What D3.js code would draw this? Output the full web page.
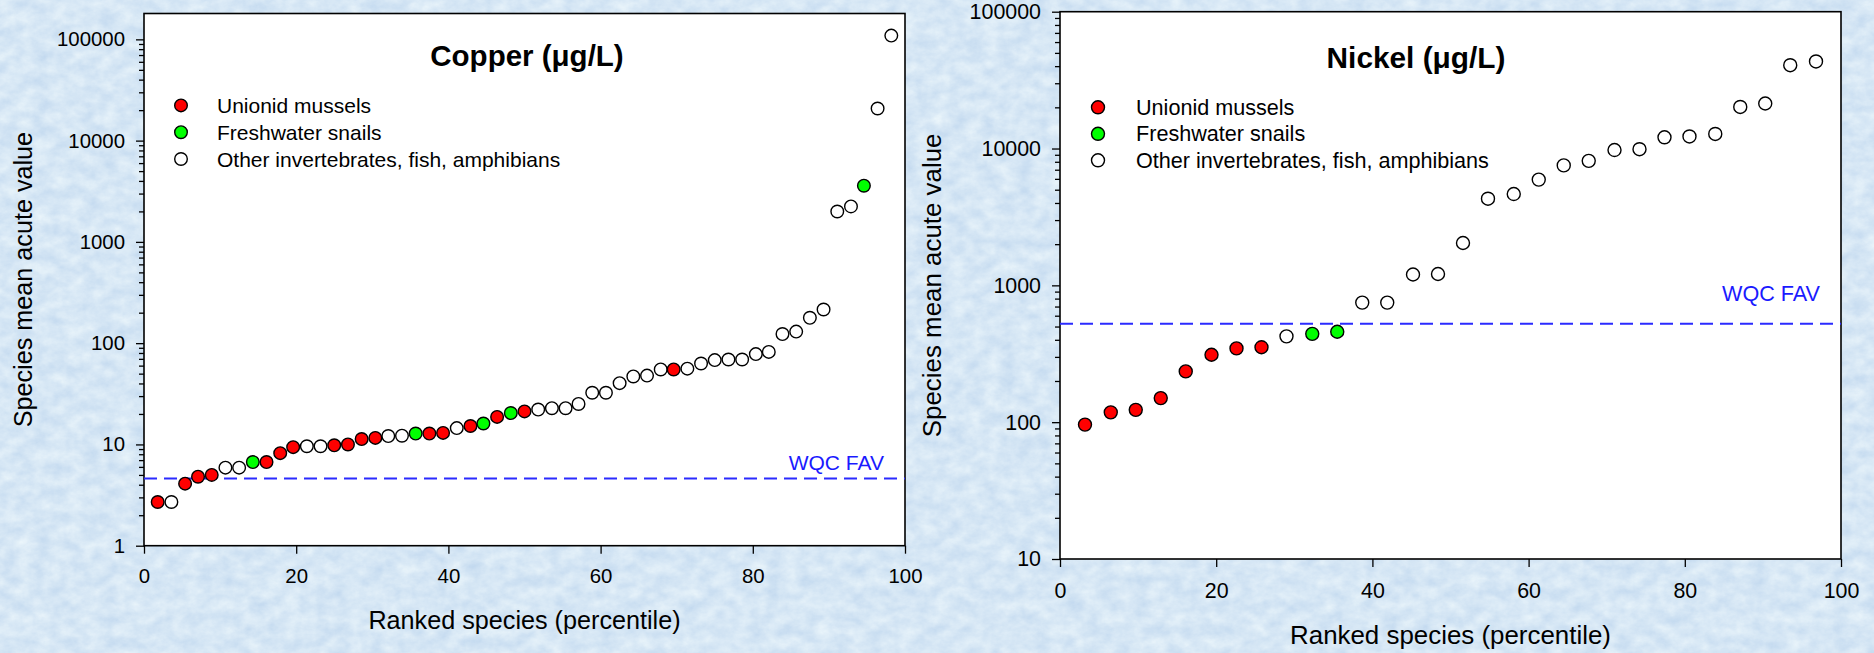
<!DOCTYPE html>
<html>
<head>
<meta charset="utf-8">
<script src="https://cdn.jsdelivr.net/npm/d3@7"></script>
<style>
  html, body { margin: 0; padding: 0; overflow: hidden; }
  svg { display: block; font-family: "Liberation Sans", Arial, sans-serif; }
</style>
</head>
<body>
<svg id="chart" width="1874" height="653"></svg>
<script>
// ranked species (percentile) and species mean acute values (ug/L)
// group codes: U = unionid mussel, S = freshwater snail, O = other
let cu_pct = [1.8, 3.6, 5.4, 7.1, 8.9, 10.7, 12.5, 14.3, 16.1, 17.9, 19.6, 21.4, 23.2, 25.0,
  26.8, 28.6, 30.4, 32.1, 33.9, 35.7, 37.5, 39.3, 41.1, 42.9, 44.6, 46.4, 48.2, 50.0,
  51.8, 53.6, 55.4, 57.1, 58.9, 60.7, 62.5, 64.3, 66.1, 67.9, 69.6, 71.4, 73.2, 75.0,
  76.8, 78.6, 80.4, 82.1, 83.9, 85.7, 87.5, 89.3, 91.1, 92.9, 94.6, 96.4, 98.2];
let cu_val = [2.7, 2.7, 4.1, 4.8, 5.0, 5.9, 5.9, 6.7, 6.7, 8.2, 9.4, 9.6, 9.6, 9.8,
  10.0, 11.3, 11.6, 12.1, 12.2, 12.8, 12.8, 13.0, 14.5, 15.2, 16.1, 18.7, 20.4, 21.2,
  22.1, 22.8, 22.8, 25.1, 32.4, 32.4, 40.3, 46.9, 47.8, 55, 55, 56, 63, 68,
  69, 69, 78, 82, 123, 130, 178, 215, 1995, 2240, 3590, 20750, 108900];
let cu_grp = ["U", "O", "U", "U", "U", "O", "O", "S", "U", "U", "U", "O", "O", "U",
  "U", "U", "U", "O", "O", "S", "U", "U", "O", "U", "S", "U", "S", "U",
  "O", "O", "O", "O", "O", "O", "O", "O", "O", "O", "U", "O", "O", "O",
  "O", "O", "O", "O", "O", "O", "O", "O", "O", "O", "S", "O", "O"];
let cu_fav = 4.6;

let ni_pct = [3.2, 6.5, 9.7, 12.9, 16.1, 19.4, 22.6, 25.8, 29.0, 32.3, 35.5, 38.7, 41.9, 45.2,
  48.4, 51.6, 54.8, 58.1, 61.3, 64.5, 67.7, 71.0, 74.2, 77.4, 80.6, 83.9, 87.1, 90.3, 93.5, 96.8];
let ni_val = [96, 118, 123, 150, 235, 311, 346, 353, 424, 442, 458, 748, 748, 1200,
  1210, 2040, 4300, 4650, 5930, 7530, 8130, 9750, 9890, 12080, 12250, 12780, 20130, 21330, 40640, 43280];
let ni_grp = ["U", "U", "U", "U", "U", "U", "U", "U", "O", "S", "S", "O", "O", "O",
  "O", "O", "O", "O", "O", "O", "O", "O", "O", "O", "O", "O", "O", "O", "O", "O"];
let ni_fav = 524;

let groups = ["U", "S", "O"],
  group_labels = ["Unionid mussels", "Freshwater snails", "Other invertebrates, fish, amphibians"],
  group_fill = ["#ff0000", "#00ff00", "#ffffff"];
let x_ticks = [0, 20, 40, 60, 80, 100];

let width = 1874, height = 653;
let svg = d3.select("#chart");

// textured light blue backdrop
let defs = svg.append("defs");
let f = defs.append("filter").attr("id", "paper")
  .attr("x", 0).attr("y", 0).attr("width", 1).attr("height", 1)
  .attr("color-interpolation-filters", "sRGB");
f.append("feTurbulence")
  .attr("type", "fractalNoise").attr("baseFrequency", "0.06 0.08")
  .attr("numOctaves", 5).attr("seed", 11);
f.append("feColorMatrix").attr("type", "matrix")
  .attr("values", "0.17 0 0 0 0.755  0.12 0 0 0 0.845  0.05 0 0 0 0.935  0 0 0 0 1");
svg.append("rect").attr("width", width).attr("height", height).attr("fill", "#d6e7f6");
svg.append("rect").attr("width", width).attr("height", height).attr("filter", "url(#paper)");

function panel(cfg, pct, val, grp, fav) {
  let g = svg.append("g");
  let x = d3.scaleLinear().domain([0, 100]).range([cfg.left, cfg.right]);
  let y = d3.scaleLog().domain(cfg.ydomain).range([cfg.bottom, cfg.top]);
  let fill = d3.scaleOrdinal().domain(groups).range(group_fill);
  let fs = cfg.fs;

  g.append("rect")
    .attr("x", cfg.left).attr("y", cfg.top)
    .attr("width", cfg.right - cfg.left).attr("height", cfg.bottom - cfg.top)
    .attr("fill", "#fff");

  let all = y.ticks().filter(v => v <= cfg.ymax_tick);
  let major = all.filter(v => Math.abs(Math.log10(v) - Math.round(Math.log10(v))) < 1e-9);
  let minor = all.filter(v => major.indexOf(v) == -1);

  let ya = g.append("g").attr("transform", `translate(${cfg.left},0)`)
    .call(d3.axisLeft(y).tickValues(major).tickFormat(d3.format("d"))
      .tickSize(8).tickPadding(11).tickSizeOuter(0));
  let ym = g.append("g").attr("transform", `translate(${cfg.left},0)`)
    .call(d3.axisLeft(y).tickValues(minor).tickFormat("").tickSize(5).tickSizeOuter(0));
  let xa = g.append("g").attr("transform", `translate(0,${cfg.bottom})`)
    .call(d3.axisBottom(x).tickValues(x_ticks).tickSize(8).tickPadding(cfg.xpad).tickSizeOuter(0));

  [ya, ym, xa].forEach(a => {
    a.select(".domain").remove();
    a.selectAll("line").attr("stroke", "#000").attr("stroke-width", 1.3);
    a.selectAll("text").attr("fill", "#000").style("font-size", fs.tick + "px")
      .style("font-family", "'Liberation Sans', Arial, sans-serif");
  });

  // frame
  g.append("rect")
    .attr("x", cfg.left).attr("y", cfg.top)
    .attr("width", cfg.right - cfg.left).attr("height", cfg.bottom - cfg.top)
    .attr("fill", "none").attr("stroke", "#000").attr("stroke-width", 1.6);

  // WQC FAV
  g.append("line")
    .attr("x1", cfg.left).attr("x2", cfg.right)
    .attr("y1", y(fav)).attr("y2", y(fav))
    .attr("stroke", "#2b2bff").attr("stroke-width", 2)
    .attr("stroke-dasharray", "13 7");
  g.append("text").text("WQC FAV")
    .attr("x", cfg.fav_x).attr("y", y(fav) - cfg.fav_dy)
    .attr("text-anchor", "end").attr("fill", "#1a1aff")
    .style("font-size", fs.fav + "px");

  g.append("g").selectAll("circle")
    .data(pct.map((p, i) => ({p: p, v: val[i], g: grp[i]}))).enter()
    .append("circle")
    .attr("cx", d => x(d.p))
    .attr("cy", d => y(d.v))
    .attr("r", cfg.r)
    .attr("fill", d => fill(d.g))
    .attr("stroke", "#000").attr("stroke-width", 1.4);

  // title
  g.append("text").text(cfg.title)
    .attr("x", cfg.title_x).attr("y", cfg.title_y)
    .attr("text-anchor", "middle").attr("font-weight", "bold")
    .style("font-size", fs.title + "px");

  // legend
  let lg = g.append("g").selectAll("g")
    .data(groups).enter().append("g")
    .attr("transform", (d, i) => `translate(${cfg.leg_x},${cfg.leg_y + i * cfg.leg_dy})`);
  lg.append("circle").attr("r", cfg.r)
    .attr("fill", d => fill(d)).attr("stroke", "#000").attr("stroke-width", 1.4);
  lg.append("text").text((d, i) => group_labels[i])
    .attr("x", cfg.leg_tx).attr("y", 7.5)
    .style("font-size", fs.legend + "px");

  // axis titles
  g.append("text").text("Ranked species (percentile)")
    .attr("x", (cfg.left + cfg.right) / 2).attr("y", cfg.xt_y)
    .attr("text-anchor", "middle").style("font-size", fs.axis + "px");
  g.append("text").text("Species mean acute value")
    .attr("transform", `translate(${cfg.yt_x},${(cfg.top + cfg.bottom) / 2})rotate(-90)`)
    .attr("text-anchor", "middle").style("font-size", fs.axis + "px");
}

panel({
  left: 144, right: 905, top: 13.5, bottom: 545.7,
  ydomain: [1, 180000], ymax_tick: 100000, xpad: 15, r: 6.3,
  title: "Copper (\u03bcg/L)", title_x: 527, title_y: 66,
  leg_x: 181, leg_y: 105.4, leg_dy: 26.8, leg_tx: 36,
  fav_x: 884, fav_dy: 9, xt_y: 629, yt_x: 32,
  fs: {tick: 20.4, legend: 21, axis: 25.2, title: 29.5, fav: 21}
}, cu_pct, cu_val, cu_grp, cu_fav);

panel({
  left: 1060, right: 1841, top: 11.7, bottom: 559,
  ydomain: [10, 100000], ymax_tick: 100000, xpad: 16, r: 6.5,
  title: "Nickel (\u03bcg/L)", title_x: 1416, title_y: 68,
  leg_x: 1098, leg_y: 107.3, leg_dy: 26.5, leg_tx: 38,
  fav_x: 1820, fav_dy: 23, xt_y: 644, yt_x: 941,
  fs: {tick: 21.4, legend: 21.6, axis: 25.9, title: 29.8, fav: 21.6}
}, ni_pct, ni_val, ni_grp, ni_fav);
</script>
</body>
</html>
